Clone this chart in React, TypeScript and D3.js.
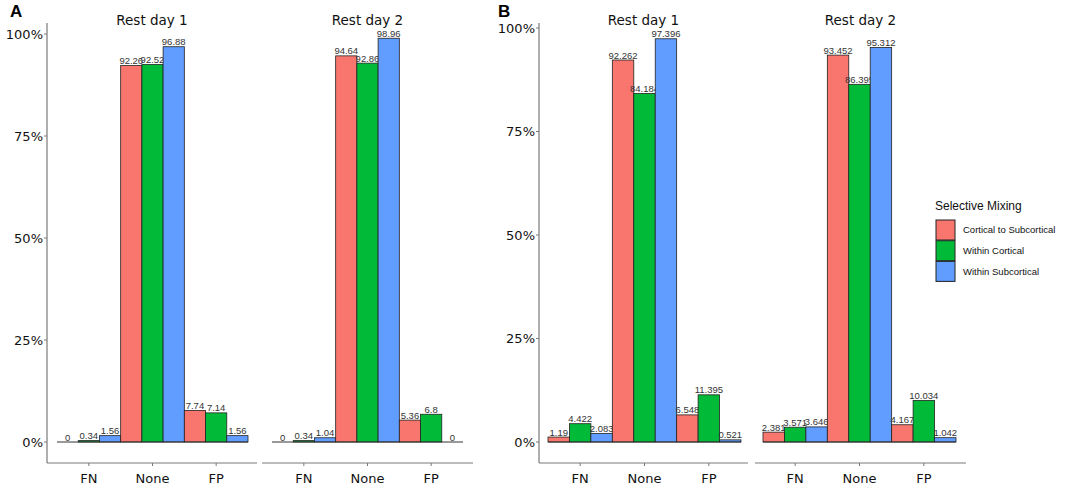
import * as d3 from 'd3';

const categories = ['FN', 'None', 'FP'];
const seriesNames = ['Cortical to Subcortical', 'Within Cortical', 'Within Subcortical'];
const seriesColors = ['#F8766D', '#00BA38', '#619CFF'];
const facetTitles = ['Rest day 1', 'Rest day 2'];
const yTicks = [0, 25, 50, 75, 100];

// values per category, in series order
const panelADay1 = [[0, 0.34, 1.56], [92.26, 92.52, 96.88], [7.74, 7.14, 1.56]];
const panelADay2 = [[0, 0.34, 1.04], [94.64, 92.86, 98.96], [5.36, 6.8, 0]];
const panelBDay1 = [[1.19, 4.422, 2.083], [92.262, 84.184, 97.396], [6.548, 11.395, 0.521]];
const panelBDay2 = [[2.381, 3.571, 3.646], [93.452, 86.395, 95.312], [4.167, 10.034, 1.042]];

const W = 1074;
const H = 488;
const axisColor = '#7a7a7a';
const tickFont = 'DejaVu Sans, sans-serif';
const labelFont = 'Liberation Sans, Arial, sans-serif';

interface Facet {
    values: number[][];
    axisX: [number, number];
    barX: [number, number];
}

interface PanelProps {
    letter: string;
    letterX: number;
    yAxisX: number;
    yTop: number;
    facets: Facet[];
}

function Panel({ letter, letterX, yAxisX, yTop, facets }: PanelProps) {
    const y = d3.scaleLinear().domain([0, 100]).range([442, yTop]);
    const axisBottom = 463;

    return (
        <g>
            <text x={letterX} y={17} fontFamily={labelFont} fontWeight="bold" fontSize={17}>{letter}</text>
            {/* y axis */}
            <line x1={yAxisX} x2={yAxisX} y1={23} y2={axisBottom} stroke={axisColor} strokeWidth={1.2} />
            {yTicks.map(t => (
                <g key={t}>
                    <line x1={yAxisX - 3} x2={yAxisX} y1={y(t)} y2={y(t)} stroke={axisColor} />
                    <text x={yAxisX - 4} y={y(t)} dy="0.35em" textAnchor="end"
                        fontFamily={tickFont} fontSize={13} fill="#111">{t}%</text>
                </g>
            ))}
            {facets.map((f, fi) => {
                const xCat = d3.scaleBand<string>().domain(categories).range(f.barX).padding(0);
                const xSer = d3.scaleBand<string>().domain(seriesNames).range([0, xCat.bandwidth()]).padding(0);
                return (
                    <g key={fi}>
                        <text x={(f.axisX[0] + f.axisX[1]) / 2} y={20} dy="0.35em" textAnchor="middle"
                            fontFamily={tickFont} fontSize={13.5} fill="#111">{facetTitles[fi]}</text>
                        <line x1={f.axisX[0]} x2={f.axisX[1]} y1={axisBottom} y2={axisBottom} stroke={axisColor} strokeWidth={1.2} />
                        {categories.map((c, ci) => {
                            const cx = (xCat(c) ?? 0) + xCat.bandwidth() / 2;
                            return (
                                <g key={c}>
                                    <line x1={cx} x2={cx} y1={axisBottom} y2={axisBottom + 3} stroke={axisColor} />
                                    <text x={cx} y={axisBottom + 15} dy="0.35em" textAnchor="middle"
                                        fontFamily={tickFont} fontSize={13} fill="#111">{c}</text>
                                    {seriesNames.map((s, si) => {
                                        const v = f.values[ci][si];
                                        const bx = (xCat(c) ?? 0) + (xSer(s) ?? 0);
                                        return (
                                            <g key={s}>
                                                <rect x={bx} y={y(v)} width={xSer.bandwidth()} height={y(0) - y(v)}
                                                    fill={seriesColors[si]} stroke="#222" strokeWidth={0.8} />
                                                <text x={bx + xSer.bandwidth() / 2} y={y(v) - 1.5} textAnchor="middle"
                                                    fontFamily={labelFont} fontSize={9.5} fill="#333">{String(v)}</text>
                                            </g>
                                        );
                                    })}
                                </g>
                            );
                        })}
                        {/* bar bottoms, visible where a value is zero */}
                        <line x1={f.barX[0]} x2={f.barX[1]} y1={y(0)} y2={y(0)} stroke="#333" strokeWidth={1} />
                    </g>
                );
            })}
        </g>
    );
}

function Legend({ x, y }: { x: number; y: number }) {
    return (
        <g transform={`translate(${x},${y})`}>
            <text x={0} y={0} dy="0.35em" fontFamily={labelFont} fontSize={12} fill="#111">Selective Mixing</text>
            {seriesNames.map((s, i) => (
                <g key={s} transform={`translate(1,${14 + i * 20.7})`}>
                    <rect width={19} height={20} fill={seriesColors[i]} stroke="#222" strokeWidth={1} />
                    <text x={27} y={10} dy="0.35em" fontFamily={labelFont} fontSize={9.5} fill="#111">{s}</text>
                </g>
            ))}
        </g>
    );
}

export default function App() {
    return (
        <div style={{ position: 'absolute', left: 0, top: 0 }}>
            <svg width={W} height={H} style={{ background: '#fff', display: 'block' }}>
                <Panel letter="A" letterX={10} yAxisX={47} yTop={34}
                    facets={[
                        { values: panelADay1, axisX: [47, 257], barX: [57, 248] },
                        { values: panelADay2, axisX: [262, 473], barX: [272, 463] },
                    ]} />
                <Panel letter="B" letterX={498} yAxisX={539} yTop={28}
                    facets={[
                        { values: panelBDay1, axisX: [539, 748], barX: [548, 741] },
                        { values: panelBDay2, axisX: [755, 966], barX: [763, 956] },
                    ]} />
                <Legend x={935} y={206} />
            </svg>
        </div>
    );
}
